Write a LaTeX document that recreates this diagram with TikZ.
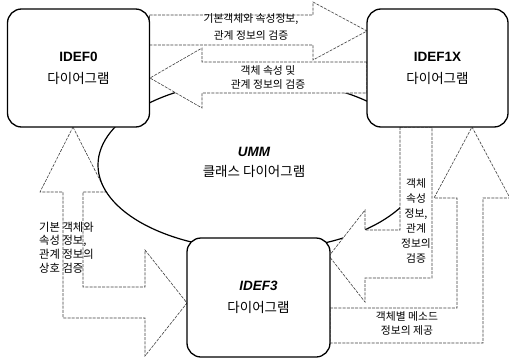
\documentclass[tikz,border=0pt]{standalone}
\usepackage{fontspec}
\setmainfont{Liberation Sans}
\newfontfamily\kr{Noto Sans CJK KR}
\usetikzlibrary{shapes.geometric}
\begin{document}
\begin{tikzpicture}[x=1pt,y=-1pt,
  box/.style={draw=black,line width=1.3pt,rounded corners=14pt,fill=white,inner sep=0pt,align=center,font=\fontsize{13.5}{22}\selectfont},
  blk/.style={draw=black!75,line width=0.6pt,dash pattern=on 3pt off 1.2pt,fill=white},
  atext/.style={font=\kr\fontsize{10.8}{15}\selectfont,align=center,inner sep=0pt}]
\clip (0,0) rectangle (509,359);
% bent double arrow IDEF3 <-> IDEF0 (behind the ellipse)
\draw[blk] (73,127) -- (106,192) -- (83,192) -- (83,287) -- (145,287) -- (145,250) -- (187,303) -- (145,356) -- (145,318) -- (63,318) -- (63,192) -- (40,192) -- cycle;
% UMM ellipse
\node[draw=black,line width=1.2pt,fill=white,ellipse,minimum width=324pt,minimum height=170pt,inner sep=0pt] (umm) at (260,165) {};
\node[font=\fontsize{13.5}{20}\selectfont,align=center,inner sep=0pt] (ummtext) at (254,162) {\textbf{\textit{UMM}}\\{\kr 클래스 다이어그램}};
% IDEF0 -> IDEF1X
\draw[blk] (149.5,15) -- (313,15) -- (313,2) -- (367,31) -- (313,60) -- (313,45) -- (149.5,45) -- cycle;
% IDEF1X -> IDEF0
\draw[blk] (367,62) -- (202,62) -- (202,48) -- (150,78) -- (202,108) -- (202,93) -- (367,93) -- cycle;
% IDEF1X -> IDEF3
\draw[blk] (400,127) -- (400,230) -- (365,230) -- (365,210) -- (329,256) -- (365,302) -- (365,278) -- (432,278) -- (432,127) -- cycle;
% IDEF3 -> IDEF1X
\draw[blk] (330,308) -- (457,308) -- (457,198) -- (434,198) -- (472,127) -- (510,198) -- (483,198) -- (483,343) -- (330,343) -- cycle;
% arrow texts
\node[atext,font=\kr\fontsize{10.8}{17}\selectfont] (t1) at (251,26.5) {기본객체와 속성정보,\\관계 정보의 검증};
\node[atext,font=\kr\fontsize{10.8}{14}\selectfont] (t2) at (268,77) {객체 속성 및\\관계 정보의 검증};
\node[atext,font=\kr\fontsize{11.3}{13.7}\selectfont,align=left,anchor=west] (t3) at (39,247.5) {기본 객체와\\속성 정보,\\관계 정보의\\상호 검증};
\node[atext] (t4) at (416,220.5) {객체\\속성\\정보,\\관계\\정보의\\검증};
\node[atext,font=\kr\fontsize{10.8}{14}\selectfont] (t5) at (407,323.5) {객체별 메소드\\정보의 제공};
% boxes
\node[box,minimum width=142pt,minimum height=118pt] (idef0) at (78.5,68) {\textbf{IDEF0}\\{\kr 다이어그램}};
\node[box,minimum width=141pt,minimum height=118pt] (idef1x) at (437.5,68) {\textbf{IDEF1X}\\{\kr 다이어그램}};
\node[box,minimum width=143pt,minimum height=119pt] (idef3) at (258.5,297.5) {\textbf{\textit{IDEF3}}\\{\kr 다이어그램}};
\end{tikzpicture}
\end{document}
